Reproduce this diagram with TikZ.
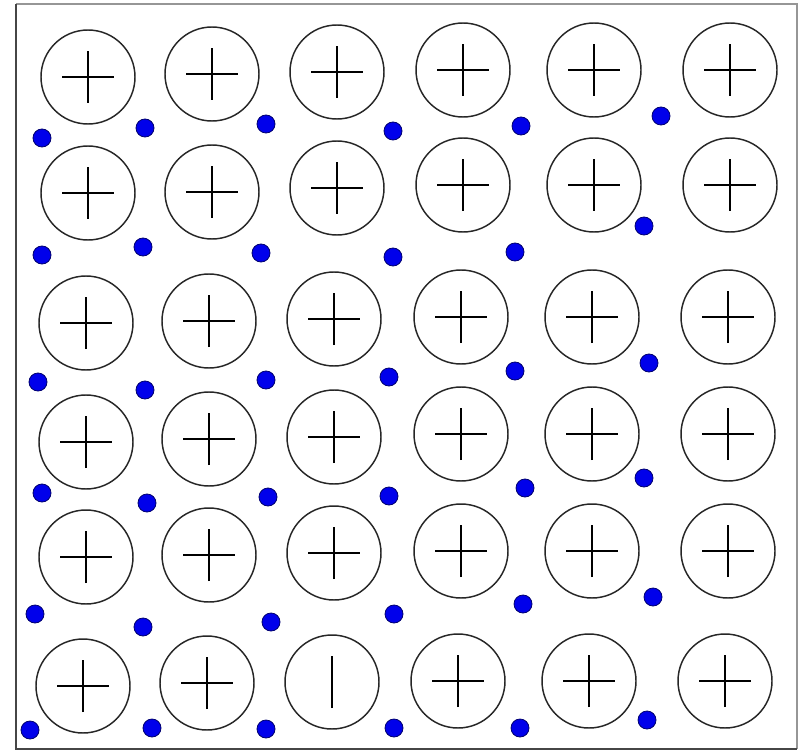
\documentclass[tikz,border=0pt]{standalone}
\definecolor{dotfill}{RGB}{0,0,235}
\definecolor{dotedge}{RGB}{0,0,110}
\definecolor{frameA}{RGB}{150,150,150}
\definecolor{frameB}{RGB}{70,70,70}
\tikzset{
  ion/.style={circle, draw=black!85, line width=1.1pt, minimum size=70.5pt, inner sep=0pt},
  electron/.style={circle, draw=dotedge, fill=dotfill, line width=0.6pt, minimum size=13.5pt, inner sep=0pt},
  bar/.style={line width=1.45pt, black}
}
\begin{document}
\begin{tikzpicture}[x=0.75pt,y=-0.75pt]
\useasboundingbox (0,0) rectangle (802,752);
\fill[white] (0,0) rectangle (802,752);
% frame
\draw[frameA, line width=1.1pt] (16,4) -- (797,4) -- (797,749);
\draw[frameB, line width=1.4pt] (16,4) -- (16,749) -- (797,749);
% positive ions with plus
\foreach \n/\x/\y in {
  a1/88/77, a2/212/74, a3/337/72, a4/463/70, a5/594/70, a6/730/70,
  b1/88/193, b2/212/192, b3/337/188, b4/463/185, b5/594/185, b6/730/185,
  c1/86/323, c2/209/321, c3/334/319, c4/461/317, c5/592/317, c6/728/317,
  d1/86/442, d2/209/439, d3/334/437, d4/461/434, d5/592/434, d6/728/434,
  e1/86/557, e2/209/555, e3/334/553, e4/461/551, e5/592/551, e6/728/551,
  f1/83/686, f2/207/683, f4/458/681, f5/589/681, f6/725/681}{
  \node[ion] (\n) at (\x,\y) {};
  \draw[bar] ([xshift=-19.5pt]\n.center) -- ([xshift=19.5pt]\n.center);
  \draw[bar] ([yshift=-19.5pt]\n.center) -- ([yshift=19.5pt]\n.center);
}
% ion with a vertical bar only
\node[ion] (f3) at (332,682) {};
\draw[bar] ([yshift=-19.5pt]f3.center) -- ([yshift=19.5pt]f3.center);
% electrons
\foreach \n/\x/\y in {
  p1/42/138, p2/145/128, p3/266/124, p4/393/131, p5/521/126, p6/661/116,
  q1/42/255, q2/143/247, q3/261/253, q4/393/257, q5/515/252, q6/644/226,
  r1/38/382, r2/145/390, r3/266/380, r4/389/377, r5/515/371, r6/649/363,
  s1/42/493, s2/147/503, s3/268/497, s4/389/496, s5/525/488, s6/644/478,
  t1/35/614, t2/143/627, t3/271/622, t4/394/614, t5/523/604, t6/653/597,
  u1/30/730, u2/152/728, u3/266/729, u4/394/728, u5/520/728, u6/647/720}{
  \node[electron] (\n) at (\x,\y) {};
}
\end{tikzpicture}
\end{document}
